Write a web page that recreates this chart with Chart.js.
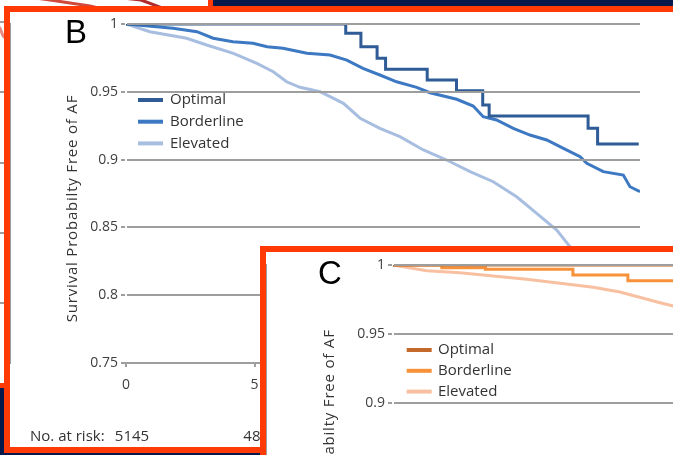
<!DOCTYPE html>
<html><head><meta charset="utf-8">
<script src="https://cdn.jsdelivr.net/npm/chart.js@4/dist/chart.umd.min.js"></script>
<style>
html,body{margin:0;padding:0;}
body{width:673px;height:455px;overflow:hidden;position:relative;background:#07194a;}
.panel{position:absolute;box-sizing:border-box;border:6px solid #ff3a06;background:#fff;overflow:hidden;}
.panel canvas{position:absolute;left:0;top:0;}
</style></head><body>
<div class="panel" style="left:-330px;top:-90px;width:543px;height:478px;border-width:5px;"><canvas id="cA" width="533" height="468"></canvas></div>
<div class="panel" style="left:4px;top:6px;width:900px;height:447px;"><canvas id="cB" width="663" height="435"></canvas></div>
<div class="panel" style="left:260px;top:246px;width:600px;height:400px;"><canvas id="cC" width="700" height="450"></canvas></div>
<script>
// ---- tick labels ----
const xTicks = [0, 5, 10, 15, 20];
const xTickLabels = ['0', '5', '10', '15', '20'];
const yTicks = [0.75, 0.8, 0.85, 0.9, 0.95, 1];
const yTickLabels = ['0.75', '0.8', '0.85', '0.9', '0.95', '1'];
const seriesNames = ['Optimal', 'Borderline', 'Elevated'];
const yTitle = 'Survival Probabilty Free of AF';

// ---- number at risk (panel B) ----
const riskTimes = [0, 5];
const riskCounts = ['5145', '4852'];

// ---- panel B (blue) ----
const bOptimalT = [0, 8.55, 9.14, 9.77, 10.10, 11.72, 12.86, 13.88, 14.13, 17.98, 18.35, 19.95];
const bOptimalS = [1, 0.9931, 0.9833, 0.9747, 0.9666, 0.9587, 0.9508, 0.9403, 0.9322, 0.9231, 0.9115, 0.9115];
const bBorderT = [0, 1.83, 2.76, 3.39, 4.16, 4.94, 5.49, 6.11, 7.04, 7.94, 8.59, 9.22, 9.88, 10.53, 11.31, 11.83, 12.87, 13.51, 13.90, 14.42, 15.07, 15.72, 16.37, 17.02, 17.67, 17.93, 18.57, 19.35, 19.61, 20.0];
const bBorderS = [1, 0.9968, 0.9943, 0.9895, 0.9869, 0.9858, 0.9833, 0.9821, 0.9784, 0.9771, 0.9734, 0.9673, 0.9624, 0.9574, 0.9533, 0.9493, 0.9445, 0.9395, 0.9316, 0.9292, 0.9231, 0.9181, 0.9145, 0.9083, 0.9021, 0.8973, 0.8911, 0.8886, 0.8800, 0.8763];
const bElevT = [0, 0.93, 2.36, 3.14, 4.18, 5.09, 5.73, 6.25, 6.77, 7.55, 7.94, 8.46, 9.11, 9.88, 10.66, 11.57, 12.48, 13.39, 14.29, 15.20, 15.98, 16.76, 17.35];
const bElevS = [1, 0.9943, 0.9895, 0.9845, 0.9784, 0.9710, 0.9648, 0.9574, 0.9533, 0.9501, 0.9464, 0.9415, 0.9305, 0.9231, 0.9169, 0.9071, 0.8997, 0.8911, 0.8837, 0.8726, 0.8604, 0.8481, 0.8340];

// ---- panel C (orange) ----
const cOptimalT = [0, 11];
const cOptimalS = [1, 1];
const cBorderT = [0, 1.9, 3.6, 7.0, 9.14, 11];
const cBorderS = [1, 0.998, 0.9969, 0.9927, 0.9885, 0.9885];
const cElevT = [0, 1.31, 2.61, 3.90, 5.20, 6.50, 7.79, 8.83, 9.74, 10.39, 10.95];
const cElevS = [1, 0.9959, 0.9944, 0.9920, 0.9896, 0.9867, 0.9838, 0.9804, 0.9758, 0.9726, 0.9700];

// ---- panel A (red, mostly hidden behind B) ----
const aOptimalT = [0, 14.29, 15.92, 16.5];
const aOptimalS = [1, 0.9658, 0.9615, 0.959];
const aBorderT = [0, 18.0, 18.78, 19.5];
const aBorderS = [1, 0.9658, 0.9608, 0.955];
const aElevT = [0, 12.24, 12.37, 13.0];
const aElevS = [1, 0.9459, 0.9402, 0.93];

const pts = (t, s) => t.map((v, i) => ({x: v, y: s[i]}));
const GRID = '#9e9e9e';
const TXT = '#404040';
const tickFont = {family: '"Open Sans"', size: 14};

const decor = {
  id: 'decor',
  afterDraw(chart, args, o) {
    if (!o || !o.on) return;
    const {ctx, chartArea: ca} = chart;
    ctx.save();
    // panel letter
    ctx.font = '33px "Liberation Sans"';
    ctx.fillStyle = '#000';
    ctx.textAlign = 'left';
    ctx.textBaseline = 'alphabetic';
    ctx.fillText(o.letter, o.letterX, o.letterY);
    // legend
    chart.data.datasets.forEach((d, i) => {
      const y = ca.top + o.legY + i * o.legGap;
      ctx.strokeStyle = d.borderColor;
      ctx.lineWidth = 4;
      ctx.lineCap = 'butt';
      ctx.beginPath();
      ctx.moveTo(ca.left + o.legX0, y);
      ctx.lineTo(ca.left + o.legX1, y);
      ctx.stroke();
      ctx.font = '15px "Open Sans"';
      ctx.fillStyle = '#333';
      ctx.textBaseline = 'middle';
      ctx.textAlign = 'left';
      ctx.fillText(d.label, ca.left + o.legTX, y);
    });
    // risk row
    if (o.risk) {
      ctx.font = '15px "Open Sans"';
      ctx.fillStyle = '#333';
      ctx.textBaseline = 'middle';
      ctx.textAlign = 'left';
      ctx.fillText('No. at risk:', o.riskLabelX, o.riskY);
      ctx.textAlign = 'center';
      riskCounts.forEach((c, i) => {
        ctx.fillText(c, chart.scales.x.getPixelForValue(riskTimes[i]) + 6, o.riskY);
      });
    }
    // y title
    ctx.translate(ca.left + o.titleDX, (ca.top + ca.bottom) / 2 + o.titleDY);
    ctx.rotate(-Math.PI / 2);
    ctx.font = '15px "Open Sans"';
    ctx.letterSpacing = '0.8px';
    ctx.fillStyle = '#333';
    ctx.textAlign = 'center';
    ctx.textBaseline = 'middle';
    ctx.fillText(yTitle, 0, 0);
    ctx.restore();
  }
};

function kmChart(id, sets, colors, pad, yW, xH, deco) {
  return new Chart(document.getElementById(id), {
    type: 'line',
    data: {
      datasets: sets.map((s, i) => ({
        label: seriesNames[i],
        data: s.data,
        stepped: s.stepped ? true : false,
        borderColor: colors[i],
        backgroundColor: colors[i],
        borderWidth: 3,
        pointRadius: 0,
        tension: 0,
        fill: false,
        clip: 0
      }))
    },
    options: {
      responsive: false,
      animation: false,
      devicePixelRatio: 1,
      layout: {padding: pad},
      plugins: {legend: {display: false}, tooltip: {enabled: false}, decor: deco},
      scales: {
        x: {
          type: 'linear', min: 0, max: 20,
          afterBuildTicks: s => { s.ticks = xTicks.map(v => ({value: v})); },
          afterFit: s => { s.height = xH; },
          ticks: {font: tickFont, color: TXT, padding: 10, maxRotation: 0, autoSkip: false,
                  callback: (v, i) => xTickLabels[i]},
          grid: {drawOnChartArea: false, tickLength: 4, color: GRID, lineWidth: 2},
          border: {color: GRID, width: 2}
        },
        y: {
          type: 'linear', min: 0.75, max: 1,
          afterBuildTicks: s => { s.ticks = yTicks.map(v => ({value: v})); },
          afterFit: s => { s.width = yW; },
          ticks: {font: tickFont, color: TXT, padding: 3, autoSkip: false,
                  callback: (v, i) => yTickLabels[i]},
          grid: {color: GRID, lineWidth: 2, tickLength: 5, z: 1},
          border: {color: GRID, width: 2}
        }
      }
    },
    plugins: [decor]
  });
}

// Panel A (background, red curves)
new Chart(document.getElementById('cA'), {
  type: 'line',
  data: {datasets: [
    {label: 'Optimal', data: pts(aOptimalT, aOptimalS), borderColor: '#d04a3c', borderWidth: 3, pointRadius: 0, tension: 0},
    {label: 'Borderline', data: pts(aBorderT, aBorderS), borderColor: '#b02a2a', borderWidth: 3, pointRadius: 0, tension: 0},
    {label: 'Elevated', data: pts(aElevT, aElevS), borderColor: '#e58a80', borderWidth: 3, pointRadius: 0, tension: 0}
  ]},
  options: {
    responsive: false, animation: false, devicePixelRatio: 1,
    layout: {padding: {left: 25, top: 37, right: 18, bottom: 80}},
    plugins: {legend: {display: false}, tooltip: {enabled: false}},
    scales: {
      x: {type: 'linear', min: 0, max: 20, display: false},
      y: {type: 'linear', min: 0.75, max: 1,
          afterBuildTicks: s => { s.ticks = yTicks.map(v => ({value: v})); },
          afterFit: s => { s.width = 0; },
          ticks: {display: false},
          grid: {color: GRID, lineWidth: 2, drawTicks: false},
          border: {display: false}}
    }
  }
});

kmChart('cB',
  [{data: pts(bOptimalT, bOptimalS), stepped: true},
   {data: pts(bBorderT, bBorderS)},
   {data: pts(bElevT, bElevS)}],
  ['#2f5c96', '#3d78c2', '#a8bee0'],
  {left: 0, top: 12, right: 33, bottom: 0}, 116, 84,
  {on: true, letter: 'B', letterX: 55, letterY: 31,
   legX0: 12, legX1: 37, legY: 76, legGap: 21.7, legTX: 44,
   titleDX: -53, titleDY: 15,
   risk: true, riskLabelX: 20, riskY: 425});

kmChart('cC',
  [{data: pts(cOptimalT, cOptimalS), stepped: true},
   {data: pts(cBorderT, cBorderS), stepped: true},
   {data: pts(cElevT, cElevS)}],
  ['#c4692a', '#f7923a', '#f8c0a0'],
  {left: 0, top: 13, right: 59, bottom: 0}, 127, 93,
  {on: true, letter: 'C', letterX: 52, letterY: 32,
   legX0: 13.7, legX1: 38.7, legY: 85, legGap: 20.8, legTX: 45,
   titleDX: -63, titleDY: 6,
   risk: false});
</script>
</body></html>
